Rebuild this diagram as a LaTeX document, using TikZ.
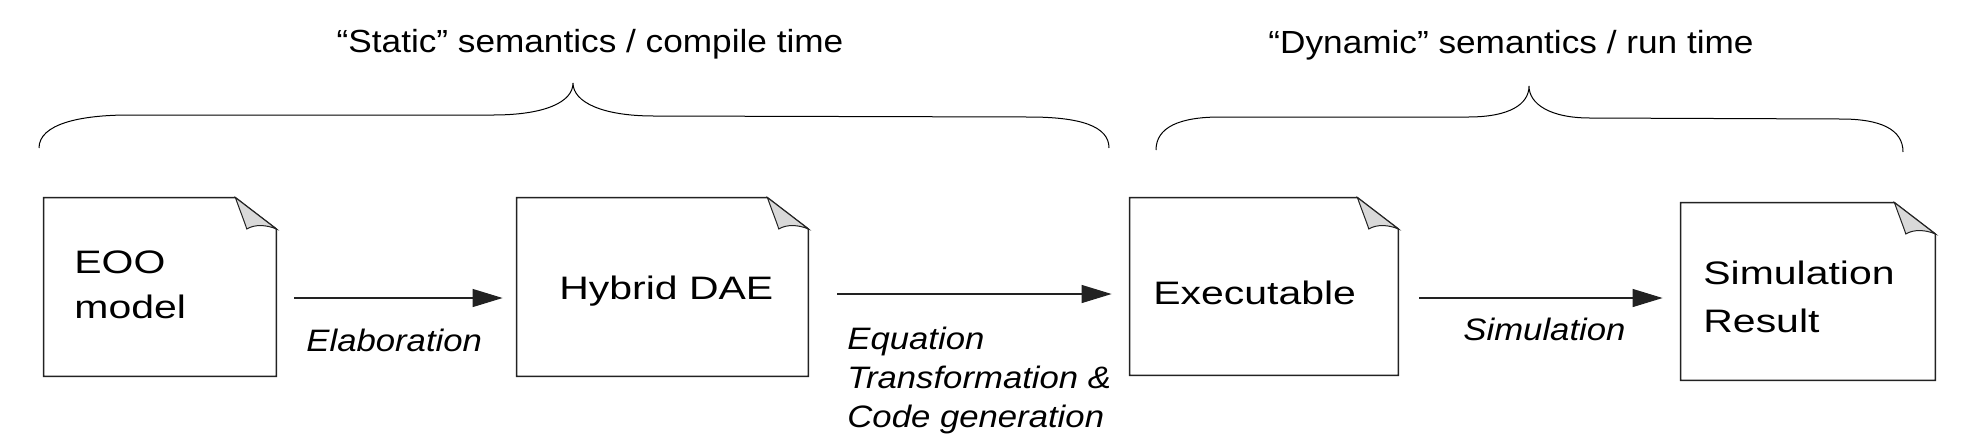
\documentclass[tikz,border=0pt]{standalone}
\usepackage{fontspec}
\setmainfont{Liberation Sans}
\newfontfamily\boxfont{Liberation Sans}[FakeStretch=1.26]
\newfontfamily\topfont{Liberation Sans}[FakeStretch=1.10]
\newfontfamily\labfont{Liberation Sans}[FakeStretch=1.12]
\usetikzlibrary{arrows.meta,calc}
\definecolor{foldgray}{HTML}{D9D9D9}
\definecolor{linegray}{HTML}{222222}
\begin{document}
\begin{tikzpicture}[x=0.5pt,y=-0.5pt,
  doc/.style={rectangle, inner sep=0pt, draw=none, fill=white},
  boxline/.style={draw=linegray, line width=0.7pt, line join=miter},
  fold/.style={draw=linegray, line width=0.5pt, fill=foldgray},
  boxtext/.style={inner sep=0pt, align=left, font=\boxfont\fontsize{16.25pt}{24pt}\selectfont},
  toptext/.style={inner sep=0pt, font=\topfont\fontsize{16pt}{19pt}\selectfont},
  labtext/.style={inner sep=0pt, align=left, font=\labfont\itshape\fontsize{15.5pt}{15pt}\selectfont},
  arr/.style={draw=linegray, line width=0.6pt, -{Triangle[length=15pt,width=9pt]}},
  brace/.style={draw=black, line width=0.5pt}
]
\useasboundingbox (0,0) rectangle (1974,446);

% top labels
\node[toptext, anchor=base] (static) at (590,52) {“Static” semantics / compile time};
\node[toptext, anchor=base] (dynamic) at (1511,53) {“Dynamic” semantics / run time};

% braces
\draw[brace] (39,148) .. controls (39,124) and (80,115) .. (129,115) -- (493,115)
  .. controls (545,115) and (573,102) .. (573,83)
  .. controls (573,102) and (602,116) .. (654,116) -- (1029,117)
  .. controls (1080,117) and (1109,126) .. (1109,148);
\draw[brace] (1156,150) .. controls (1156,127) and (1180,117) .. (1220,117) -- (1468,117)
  .. controls (1510,117) and (1529,104) .. (1529,86)
  .. controls (1529,104) and (1550,118) .. (1590,118) -- (1841,119)
  .. controls (1880,119) and (1903,129) .. (1903,152);

% document boxes
\node[doc, minimum width=116pt, minimum height=89pt] (b1) at (160,287) {};
\node[doc, minimum width=145.5pt, minimum height=89pt] (b2) at (662.5,287) {};
\node[doc, minimum width=134pt, minimum height=88.5pt] (b3) at (1264,286.5) {};
\node[doc, minimum width=127pt, minimum height=88.5pt] (b4) at (1808,291.5) {};

\foreach \b in {b1,b2,b3,b4}{
  \draw[boxline] (\b.south west) -- (\b.north west) -- ([xshift=-20.5pt]\b.north east)
    -- ([yshift=-15.7pt]\b.north east) -- (\b.south east) -- cycle;
  \draw[fold] ([xshift=-20.5pt]\b.north east)
    .. controls ([xshift=-18pt,yshift=-7pt]\b.north east) and ([xshift=-16pt,yshift=-12pt]\b.north east) .. ([xshift=-14.8pt,yshift=-15.7pt]\b.north east)
    .. controls ([xshift=-11pt,yshift=-13.3pt]\b.north east) and ([xshift=-5pt,yshift=-13.5pt]\b.north east) .. ([yshift=-15.7pt]\b.north east)
    -- cycle;
}

% box texts
\node[boxtext, anchor=base west] (t1a) at (74,273) {EOO};
\node[boxtext, anchor=base west] (t1b) at (74,318) {model};
\node[boxtext, anchor=base west] (t2) at (559,299) {Hybrid DAE};
\node[boxtext, anchor=base west] (t3) at (1153,304) {Executable};
\node[boxtext, anchor=base west] (t4a) at (1703,284) {Simulation};
\node[boxtext, anchor=base west] (t4b) at (1703,332) {Result};

% arrows
\draw[arr] ($(b1.east)+(18,11)$) -- ($(b2.west)+(-14,11)$);
\draw[arr] ($(b2.east)+(29,7)$) -- ($(b3.west)+(-18,7.5)$);
\draw[arr] ($(b3.east)+(21,11.5)$) -- ($(b4.west)+(-18,6.5)$);

% arrow labels
\node[labtext, anchor=base west] (l1) at (306,351) {Elaboration};
\node[labtext, anchor=base west] (l2a) at (847,349) {Equation};
\node[labtext, anchor=base west] (l2b) at (847,388) {Transformation \&};
\node[labtext, anchor=base west] (l2c) at (847,427) {Code generation};
\node[labtext, anchor=base west] (l3) at (1463,340) {Simulation};
\end{tikzpicture}
\end{document}
